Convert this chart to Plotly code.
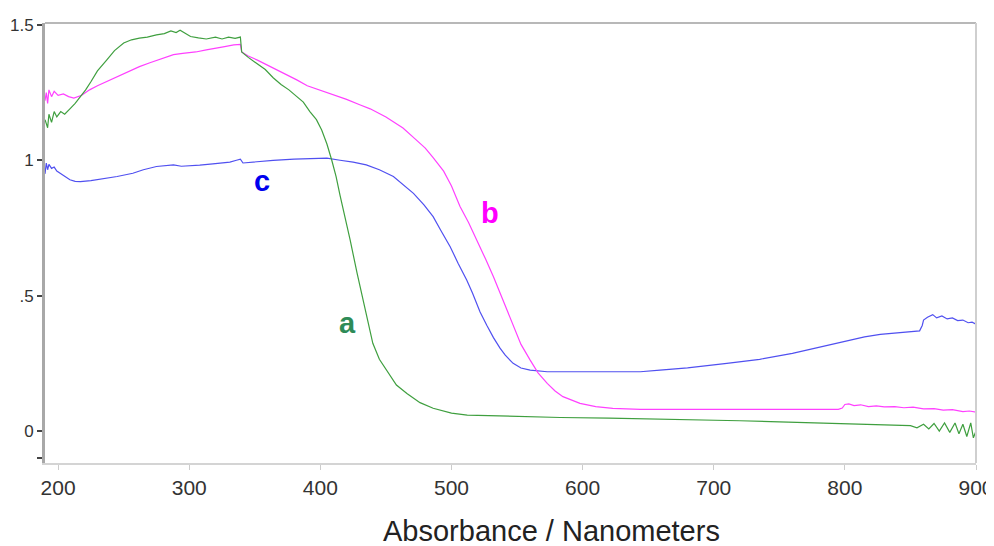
import plotly.graph_objects as go

# ---- data ----
a_nm = [190, 192, 193, 195, 197, 199, 202, 205, 209, 213, 217, 221, 225, 230, 237, 243, 250, 256, 262, 268,
        275, 281, 286, 290, 293, 297, 301, 307, 313, 320, 325, 330, 335, 339, 340, 345, 351, 358, 364, 370,
        376, 382, 387, 392, 397, 401, 405, 408.7, 412, 415, 419, 422.7, 428, 434, 440, 445, 450.6, 458, 466, 476,
        486, 500, 512, 537, 560, 583, 620, 684, 720, 750, 780, 800, 820, 840, 850, 855, 860, 864, 868, 872,
        876, 880, 884, 887, 890, 893, 896, 898, 900]
a_abs = [1.15, 1.12, 1.17, 1.14, 1.18, 1.16, 1.18, 1.17, 1.19, 1.21, 1.235, 1.26, 1.29, 1.33, 1.37, 1.405, 1.433, 1.445, 1.451, 1.455,
         1.463, 1.468, 1.478, 1.472, 1.48, 1.468, 1.457, 1.452, 1.448, 1.455, 1.448, 1.455, 1.45, 1.455, 1.40, 1.38, 1.36, 1.335, 1.305, 1.28,
         1.26, 1.235, 1.215, 1.18, 1.15, 1.112, 1.06, 1.00, 0.94, 0.87, 0.79, 0.706, 0.583, 0.447, 0.324, 0.265, 0.225, 0.17, 0.139, 0.105,
         0.084, 0.066, 0.059, 0.055, 0.053, 0.05, 0.048, 0.043, 0.038, 0.034, 0.03, 0.028, 0.024, 0.022, 0.02, 0.012, 0.025, 0.008, 0.028, 0.0,
         0.03, -0.005, 0.03, -0.01, 0.025, -0.02, 0.03, -0.025, 0.0]

b_nm = [190, 191, 192, 193, 195, 197, 200, 204, 208, 212, 218, 224, 230, 237, 245, 255, 262, 270, 280, 288,
        295, 305, 313, 320, 327, 334, 339, 340, 345, 352, 362, 372, 382, 390, 398, 407, 420, 430, 438, 450,
        463, 472, 480, 486, 494, 500, 506.5, 513, 520, 526, 532, 537, 541, 547, 553, 560, 566, 573, 579, 585,
        592, 598, 610, 623, 644, 700, 750, 795, 798, 800, 803, 807, 812, 818, 824, 830, 838, 845, 852, 860,
        868, 875, 882, 890, 895, 900]
b_abs = [1.22, 1.25, 1.21, 1.26, 1.235, 1.255, 1.24, 1.245, 1.235, 1.23, 1.24, 1.26, 1.275, 1.291, 1.31, 1.33, 1.346, 1.36, 1.378, 1.39,
         1.395, 1.40, 1.408, 1.415, 1.42, 1.426, 1.428, 1.40, 1.385, 1.37, 1.346, 1.32, 1.297, 1.275, 1.262, 1.248, 1.225, 1.205, 1.19, 1.16,
         1.119, 1.08, 1.045, 1.01, 0.96, 0.905, 0.829, 0.77, 0.70, 0.635, 0.57, 0.51, 0.46, 0.385, 0.32, 0.262, 0.215, 0.176, 0.148, 0.127,
         0.112, 0.102, 0.09, 0.084, 0.08, 0.08, 0.079, 0.08, 0.085, 0.098, 0.1, 0.094, 0.097, 0.09, 0.093, 0.089, 0.09, 0.086, 0.088, 0.082,
         0.083, 0.077, 0.079, 0.072, 0.074, 0.07]

c_nm = [190, 191, 192, 193, 195, 197, 199, 201.5, 205, 209, 213, 217, 225, 232, 237, 245, 257, 265, 275, 282,
        288, 294, 300, 308, 318, 325, 331, 336, 339, 341, 350, 364, 380, 395, 405, 415, 425, 435, 445, 455.7,
        463, 471, 479, 486, 492, 499, 505, 511.6, 516, 521.8, 527, 532, 537, 541, 547, 553, 560, 573, 600, 644,
        659, 680, 710, 735, 760, 780, 800, 815, 827, 840, 850, 857, 859, 860, 863, 867, 870, 874, 878, 882,
        886, 890, 894, 897, 900]
c_abs = [0.95, 0.99, 0.965, 0.985, 0.97, 0.975, 0.96, 0.952, 0.938, 0.928, 0.922, 0.921, 0.925, 0.93, 0.934, 0.94, 0.952, 0.965, 0.977, 0.98,
         0.983, 0.978, 0.979, 0.982, 0.987, 0.99, 0.993, 1.0, 1.004, 0.99, 0.994, 1.0, 1.004, 1.008, 1.008, 1.0, 0.993, 0.983, 0.965, 0.94,
         0.912, 0.878, 0.835, 0.792, 0.74, 0.681, 0.62, 0.558, 0.51, 0.44, 0.39, 0.345, 0.306, 0.28, 0.25, 0.233, 0.225, 0.219, 0.219, 0.219,
         0.225, 0.233, 0.25, 0.265, 0.287, 0.31, 0.333, 0.348, 0.357, 0.362, 0.366, 0.37, 0.39, 0.41, 0.42, 0.43, 0.418, 0.425, 0.414, 0.418,
         0.408, 0.41, 0.4, 0.402, 0.395]

y_tickvals = [-0.1, 0, 0.5, 1, 1.5]
y_ticktext = ["", "0", ".5", "1", "1.5"]
x_tickvals = [200, 300, 400, 500, 600, 700, 800, 900]
x_ticktext = ["200", "300", "400", "500", "600", "700", "800", "900"]

labels = [("a", 420.5, 0.40, "#2e8b57"), ("b", 529.5, 0.806, "#ff00ff"), ("c", 355.5, 0.924, "#0000ee")]

fig = go.Figure()
fig.add_trace(go.Scatter(x=c_nm, y=c_abs, mode="lines", line=dict(color="#5050f0", width=1.2), name="c"))
fig.add_trace(go.Scatter(x=b_nm, y=b_abs, mode="lines", line=dict(color="#ff40ff", width=1.2), name="b"))
fig.add_trace(go.Scatter(x=a_nm, y=a_abs, mode="lines", line=dict(color="#3f9f3f", width=1.2), name="a"))

for txt, xv, yv, col in labels:
    fig.add_annotation(x=xv, y=yv, text="<b>%s</b>" % txt, showarrow=False,
                       font=dict(family="Liberation Sans, Arial", size=29, color=col))

# page body has an 8px margin: figure is sized/offset so the plot lands where the reference has it
fig.add_annotation(x=(551 - 45) / (976 - 45), y=-(523 - 455) / 440, xref="paper", yref="paper",
                   yanchor="middle", text="Absorbance / Nanometers", showarrow=False,
                   font=dict(family="Liberation Sans, Arial", size=29, color="#222222"))

# frame: top and right lines
fig.add_shape(type="line", xref="paper", yref="paper", x0=0, x1=1, y0=1, y1=1,
              line=dict(color="#b8b8b8", width=2))
fig.add_shape(type="line", xref="paper", yref="paper", x0=1, x1=1, y0=0, y1=1,
              line=dict(color="#cfcfcf", width=2))

fig.update_layout(
    width=986, height=538,
    margin=dict(l=37, r=18, t=15, b=83, autoexpand=False),
    paper_bgcolor="white", plot_bgcolor="white",
    showlegend=False,
    xaxis=dict(range=[190, 900], tickvals=x_tickvals, ticktext=x_ticktext, automargin=False,
               showgrid=False, zeroline=False, showline=True, linecolor="#d4d4d4", linewidth=2,
               ticks="outside", ticklen=5, tickcolor="#cccccc", tickwidth=1,
               tickfont=dict(family="Liberation Sans, Arial", size=21, color="#333333")),
    yaxis=dict(range=[-0.118, 1.507], tickvals=y_tickvals, ticktext=y_ticktext, automargin=False,
               showgrid=False, zeroline=False, showline=True, linecolor="#a8a8a8", linewidth=3,
               ticks="outside", ticklen=5, tickcolor="#444444", tickwidth=1.5,
               tickfont=dict(family="Liberation Sans, Arial", size=17, color="#333333")),
)

fig.write_html("out.html")
